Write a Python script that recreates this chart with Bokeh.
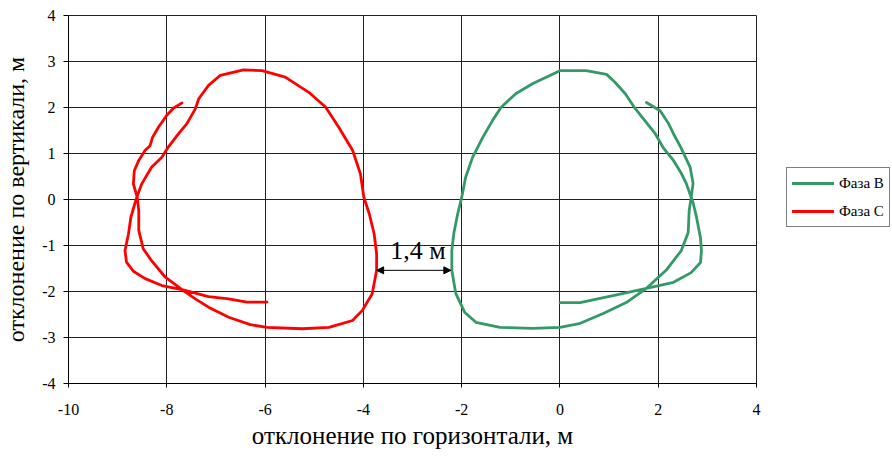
from bokeh.plotting import figure
from bokeh.models import (Range1d, FixedTicker, Legend, LegendItem, Arrow, NormalHead, Label)
from bokeh.embed import file_html
from bokeh.resources import INLINE

# ---------------- data ----------------
phase_b_x = [0.00, 0.41, 1.08, 1.76, 2.31, 2.67, 2.86, 2.88, 2.86, 2.78, 2.71,
             2.57, 2.47, 2.31, 2.10, 1.94, 1.76, 1.53, 1.33, 1.12, 0.95, 0.53, 0.00,
             -0.55, -0.90, -1.20, -1.37, -1.57, -1.78, -1.92, -2.00, -2.08, -2.16,
             -2.20, -2.20, -2.12, -1.94, -1.71, -1.22, -0.55, 0.00, 0.39, 0.88, 1.35,
             1.76, 2.16, 2.47, 2.61, 2.63, 2.67, 2.71, 2.65, 2.47, 2.31, 2.20, 2.04, 1.76]
phase_b_y = [-2.24, -2.24, -2.09, -1.93, -1.80, -1.59, -1.37, -1.11, -0.83, -0.39, -0.07,
             0.35, 0.57, 0.85, 1.13, 1.43, 1.67, 1.98, 2.30, 2.55, 2.72, 2.80, 2.80,
             2.52, 2.30, 2.00, 1.72, 1.35, 0.91, 0.48, 0.04, -0.31, -0.74,
             -1.11, -1.54, -2.04, -2.45, -2.67, -2.78, -2.80, -2.78, -2.70, -2.48, -2.24,
             -1.93, -1.54, -1.11, -0.72, -0.24, 0.04, 0.35, 0.70, 1.11, 1.43, 1.67, 1.93, 2.11]

phase_c_x = [-5.96, -6.37, -6.74, -7.15, -7.69, -8.10, -8.44, -8.68, -8.82, -8.85, -8.78,
             -8.73, -8.65, -8.61, -8.51, -8.31, -8.10, -7.97, -7.76, -7.59, -7.42, -7.35,
             -7.15, -6.91, -6.44, -6.06, -5.59, -5.11, -4.77, -4.50, -4.22, -4.06, -3.99,
             -3.88, -3.78, -3.73, -3.73, -3.82, -4.02, -4.22, -4.70, -5.24, -5.96, -6.30,
             -6.74, -7.15, -7.42, -7.69, -8.03, -8.31, -8.48, -8.57, -8.57, -8.60, -8.68,
             -8.66, -8.57, -8.44, -8.34, -8.29, -8.17, -8.00, -7.86, -7.69]
phase_c_y = [-2.23, -2.23, -2.16, -2.11, -1.96, -1.87, -1.72, -1.56, -1.36, -1.11, -0.75,
             -0.38, -0.09, 0.05, 0.34, 0.70, 0.92, 1.14, 1.43, 1.65, 1.97, 2.19,
             2.48, 2.70, 2.82, 2.80, 2.66, 2.33, 2.01, 1.57, 1.07, 0.56, 0.05,
             -0.31, -0.75, -1.18, -1.54, -2.05, -2.41, -2.63, -2.78, -2.81, -2.78, -2.72,
             -2.56, -2.34, -2.16, -1.96, -1.69, -1.33, -1.07, -0.67, -0.24, 0.04, 0.34,
             0.63, 0.85, 1.07, 1.17, 1.35, 1.57, 1.83, 1.99, 2.10]

series_names = ["Фаза В", "Фаза С"]
series_colors = ["#339966", "#FF0000"]

x_ticks = [-10, -8, -6, -4, -2, 0, 2, 4]
y_ticks = [-4, -3, -2, -1, 0, 1, 2, 3, 4]

gap_label = "1,4 м"
gap_x = [-3.73, -2.22]
gap_y = -1.54
gap_label_x = -2.89

FONT = "Liberation Serif"

p = figure(frame_width=688, frame_height=368, output_backend="svg", toolbar_location=None,
           x_range=Range1d(-10, 4), y_range=Range1d(-4, 4),
           min_border_left=67, min_border_right=137, min_border_top=15, min_border_bottom=73)

p.background_fill_color = "white"
p.border_fill_color = "white"
p.outline_line_color = "#222222"
p.outline_line_width = 1

for ax in (p.xaxis, p.yaxis):
    ax.axis_line_color = "black"
    ax.major_tick_line_color = "black"
    ax.minor_tick_line_color = None
    ax.major_tick_in = 0
    ax.major_label_text_font = FONT
    ax.major_label_text_font_size = "16px"
    ax.major_label_text_color = "black"
    ax.axis_label_text_font = FONT
    ax.axis_label_text_font_style = "normal"
    ax.axis_label_text_color = "black"

p.xaxis.ticker = FixedTicker(ticks=x_ticks)
p.yaxis.ticker = FixedTicker(ticks=y_ticks)
p.xaxis.major_label_overrides = {t: str(t) for t in x_ticks}
p.yaxis.major_label_overrides = {t: str(t) for t in y_ticks}
p.xaxis.major_tick_out = 4
p.yaxis.major_tick_out = 5
p.xaxis.major_label_standoff = 16
p.yaxis.major_label_standoff = 8
p.xaxis.axis_label = "отклонение по горизонтали, м"
p.yaxis.axis_label = "отклонение по вертикали, м"
p.xaxis.axis_label_text_font_size = "25px"
p.yaxis.axis_label_text_font_size = "24px"
p.xaxis.axis_label_standoff = 4
p.yaxis.axis_label_standoff = 10

p.xgrid.ticker = FixedTicker(ticks=x_ticks)
p.ygrid.ticker = FixedTicker(ticks=y_ticks)
for g in (p.xgrid, p.ygrid):
    g.grid_line_color = "#222222"
    g.grid_line_width = 1
    g.grid_line_alpha = 1.0

rb = p.line(phase_b_x, phase_b_y, line_color=series_colors[0], line_width=2.8,
            line_join="round", line_cap="round")
rc = p.line(phase_c_x, phase_c_y, line_color=series_colors[1], line_width=2.8,
            line_join="round", line_cap="round")

arrow = Arrow(x_start=gap_x[0], y_start=gap_y, x_end=gap_x[1], y_end=gap_y,
              line_color="black", line_width=1,
              start=NormalHead(size=7, fill_color="black", line_color="black"),
              end=NormalHead(size=7, fill_color="black", line_color="black"))
p.add_layout(arrow)
p.add_layout(Label(x=gap_label_x, y=gap_y, y_offset=5, text=gap_label,
                   text_font=FONT, text_font_size="26px", text_align="center",
                   text_baseline="bottom", text_color="black"))

legend = Legend(items=[LegendItem(label=series_names[0], renderers=[rb]),
                       LegendItem(label=series_names[1], renderers=[rc])],
                location=(30, 156))
legend.label_text_font = FONT
legend.label_text_font_size = "15px"
legend.label_text_color = "black"
legend.glyph_width = 42
legend.glyph_height = 20
legend.label_height = 20
legend.label_standoff = 5
legend.spacing = 8
legend.padding = 5
legend.margin = 0
legend.border_line_color = "black"
legend.border_line_width = 1
legend.background_fill_color = "white"
legend.background_fill_alpha = 1
p.add_layout(legend, "right")

open("out.html", "w").write(file_html(p, INLINE))
